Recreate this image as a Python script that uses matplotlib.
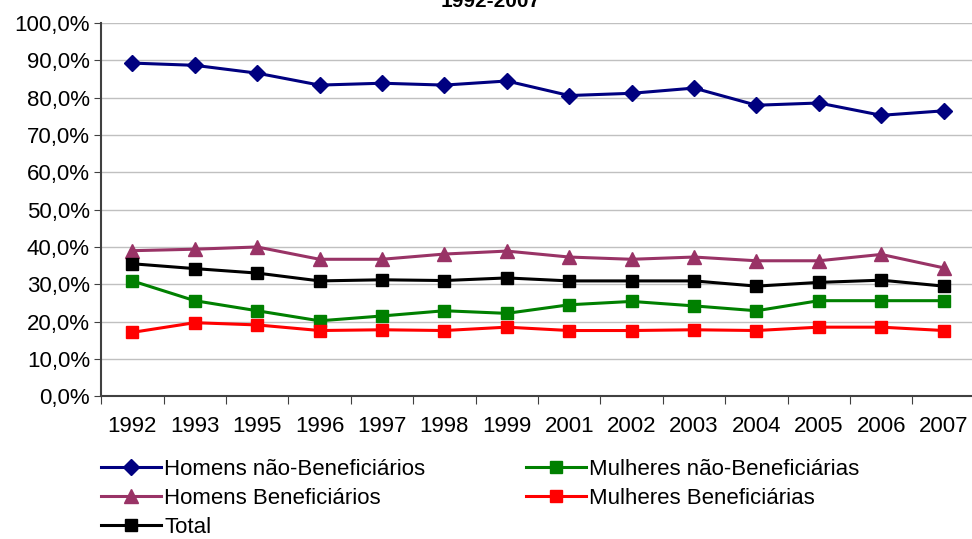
import numpy as np
import matplotlib.pyplot as plt
from matplotlib.ticker import FixedLocator, FuncFormatter

plt.rcParams['font.family'] = ['Liberation Sans', 'DejaVu Sans']

years = ['1992', '1993', '1995', '1996', '1997', '1998', '1999',
         '2001', '2002', '2003', '2004', '2005', '2006', '2007']

homens_nao_ben = [89.3, 88.7, 86.6, 83.4, 83.9, 83.4, 84.5,
                  80.6, 81.2, 82.6, 78.0, 78.6, 75.3, 76.5]
homens_ben = [39.0, 39.4, 40.0, 36.7, 36.7, 38.1, 38.9,
              37.3, 36.7, 37.3, 36.3, 36.3, 38.0, 34.4]
total = [35.5, 34.2, 33.0, 30.9, 31.2, 31.0, 31.7,
         30.9, 30.9, 30.9, 29.5, 30.5, 31.1, 29.5]
mulheres_nao_ben = [30.9, 25.6, 22.9, 20.2, 21.5, 22.9, 22.2,
                    24.5, 25.4, 24.2, 22.9, 25.6, 25.6, 25.6]
mulheres_ben = [17.1, 19.7, 19.1, 17.6, 17.8, 17.6, 18.5,
                17.6, 17.6, 17.8, 17.6, 18.5, 18.5, 17.6]

fig = plt.figure(figsize=(9.72, 5.39), dpi=100)
ax = fig.add_axes([0.104, 0.265, 0.899, 0.692])

x = np.arange(len(years))
lw = 2.2
l1, = ax.plot(x, homens_nao_ben, color='#000080', lw=lw, marker='D', ms=8,
              label='Homens não-Beneficiários')
l2, = ax.plot(x, homens_ben, color='#993366', lw=lw, marker='^', ms=10,
              label='Homens Beneficiários')
l3, = ax.plot(x, total, color='black', lw=lw, marker='s', ms=9,
              label='Total')
l4, = ax.plot(x, mulheres_nao_ben, color='#008000', lw=lw, marker='s', ms=9,
              label='Mulheres não-Beneficiárias')
l5, = ax.plot(x, mulheres_ben, color='#ff0000', lw=lw, marker='s', ms=9,
              label='Mulheres Beneficiárias')

ax.set_xlim(-0.5, len(years) - 0.5)
ax.set_ylim(0, 100)
ax.set_yticks(np.arange(0, 101, 10))
ax.yaxis.set_major_formatter(FuncFormatter(lambda v, p: f'{v:.1f}%'.replace('.', ',')))
ax.grid(axis='y', color='#c0c0c0', lw=1)
ax.set_axisbelow(True)

ax.xaxis.set_major_locator(FixedLocator(np.arange(-0.5, len(years), 1)))
ax.xaxis.set_minor_locator(FixedLocator(x))
ax.set_xticklabels([])
ax.set_xticklabels(years, minor=True)
ax.tick_params(axis='x', which='major', length=6, color='#404040', direction='out')
ax.tick_params(axis='x', which='minor', length=0, pad=14, labelsize=16)
ax.tick_params(axis='y', length=5, color='#404040', labelsize=16, pad=3)

for s in ['top', 'right']:
    ax.spines[s].set_visible(False)
for s in ['left', 'bottom']:
    ax.spines[s].set_color('#404040')
    ax.spines[s].set_linewidth(1.5)

fig.text(0.505, 0.997, '1992-2007', ha='center', va='center',
         fontsize=15, fontweight='bold')

fig.legend(handles=[l1, l2, l3, l4, l5], ncol=2, loc='upper left',
           bbox_to_anchor=(0.104, 0.148), frameon=False, fontsize=16,
           handlelength=2.7, handletextpad=0.15, columnspacing=4.5,
           labelspacing=0.36, borderpad=0, borderaxespad=0)

fig.savefig('out.png', dpi=100)
